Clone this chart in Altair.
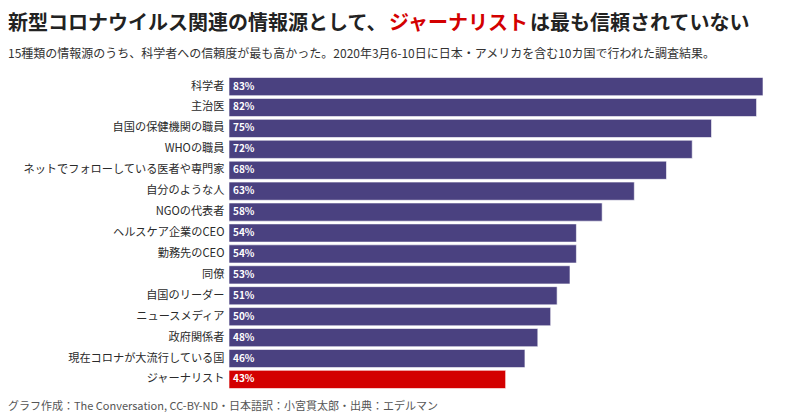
import altair as alt
import pandas as pd

categories = ["科学者", "主治医", "自国の保健機関の職員", "WHOの職員", "ネットでフォローしている医者や専門家",
              "自分のような人", "NGOの代表者", "ヘルスケア企業のCEO", "勤務先のCEO", "同僚",
              "自国のリーダー", "ニュースメディア", "政府関係者", "現在コロナが大流行している国", "ジャーナリスト"]
values = [83, 82, 75, 72, 68, 63, 58, 54, 54, 53, 51, 50, 48, 46, 43]
highlight = "ジャーナリスト"

title_parts = ["新型コロナウイルス関連の情報源として、", "ジャーナリスト", "は最も信頼されていない"]
subtitle = "15種類の情報源のうち、科学者への信頼度が最も高かった。2020年3月6-10日に日本・アメリカを含む10カ国で行われた調査結果。"
footer = "グラフ作成：The Conversation, CC-BY-ND・日本語訳：小宮貫太郎・出典：エデルマン"

FONT = "Noto Sans CJK JP"
df = pd.DataFrame({"cat": categories, "val": values})
df["label"] = df["val"].astype(str) + "%"
df["hl"] = df["cat"] == highlight

y = alt.Y("cat:N", sort=categories, title=None,
          scale=alt.Scale(paddingInner=0.13, paddingOuter=0.07),
          axis=alt.Axis(domain=False, ticks=False, labelFontSize=11.2, labelColor="#2a2a2a",
                        labelFont=FONT, labelPadding=5, labelLimit=300))
x = alt.X("val:Q", scale=alt.Scale(domain=[0, 83], nice=False), axis=None, title=None)

bars = alt.Chart(df).mark_bar(stroke="white", strokeWidth=0.6).encode(
    x=x, y=y,
    color=alt.Color("hl:N", scale=alt.Scale(domain=[False, True], range=["#4a4180", "#d30000"]), legend=None),
)
lbl = alt.Chart(df).mark_text(align="left", baseline="middle", dx=4, color="white",
                              fontSize=10, fontWeight="bold", font=FONT).encode(
    x=alt.datum(0), y=y, text="label:N")

tdf = pd.DataFrame({"t": title_parts, "i": [0, 1, 2]})
def tpart(i, xpos, color):
    return alt.Chart(tdf[tdf.i == i]).mark_text(align="left", baseline="middle", fontSize=20,
                                                fontWeight="bold", font=FONT, color=color).encode(
        text="t:N", x=alt.value(xpos), y=alt.value(-52))

t0 = tpart(0, -221, "#222")
t1 = tpart(1, 160, "#d30000")
t2 = tpart(2, 301, "#222")

sub = alt.Chart(pd.DataFrame({"t": [subtitle]})).mark_text(
    align="left", baseline="middle", fontSize=12, font=FONT, color="#333").encode(
    text="t:N", x=alt.value(-221), y=alt.value(-22))
foot = alt.Chart(pd.DataFrame({"t": [footer]})).mark_text(
    align="left", baseline="middle", fontSize=11, font=FONT, color="#555").encode(
    text="t:N", x=alt.value(-221), y=alt.value(331))

chart = alt.layer(bars, lbl, t0, t1, t2, sub, foot).properties(
    width=534, height=314,
    autosize=alt.AutoSizeParams(type="none"),
    padding={"left": 221, "top": 68, "right": 20, "bottom": 28},
    background="white",
).configure_view(stroke=None)

chart.save("out.html", embed_options={"renderer": "svg", "actions": False})
